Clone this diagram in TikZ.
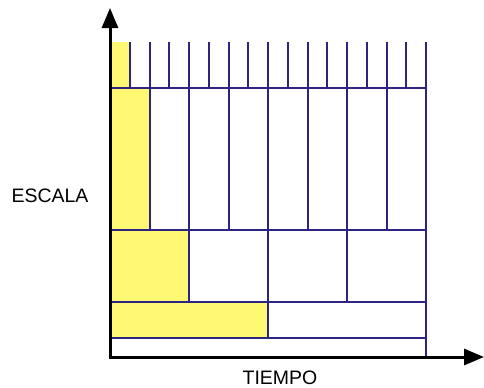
\documentclass[tikz,border=0pt]{standalone}
\usepackage{fontspec}
\setmainfont{Liberation Sans}
\usetikzlibrary{arrows.meta}

\definecolor{gridblue}{RGB}{44,36,128}
\definecolor{cellyellow}{RGB}{255,248,115}

\tikzset{
  cellline/.style={color=gridblue, line width=1.5pt},
  cellfill/.style={fill=cellyellow, draw=none},
  axisline/.style={draw=black, line width=2.25pt, -{Triangle[width=12pt,length=15pt]}},
  axislabel/.style={inner sep=0.75pt, font=\fontsize{14.6}{17}\selectfont},
}

\begin{document}
\begin{tikzpicture}[x=0.75pt,y=0.75pt,yscale=-1,xscale=1]
\useasboundingbox (0,0) rectangle (484,387);

%Shape: Yellow cells
\path [cellfill] (110,42) rectangle (129.75,88) ;
\path [cellfill] (110,88) rectangle (149.5,230) ;
\path [cellfill] (110,230) rectangle (189,302) ;
\path [cellfill] (110,302) rectangle (268,338) ;

%Shape: Grid rows
\draw [cellline] (110,88) -- (426,88)(110,230) -- (426,230)(110,302) -- (426,302)(110,338) -- (426,338) ;
%Row of 16
\draw [cellline] (129.75,42) -- (129.75,88)(149.5,42) -- (149.5,88)(169.25,42) -- (169.25,88)(189,42) -- (189,88)(208.75,42) -- (208.75,88)(228.5,42) -- (228.5,88)(248.25,42) -- (248.25,88)(268,42) -- (268,88)(287.75,42) -- (287.75,88)(307.5,42) -- (307.5,88)(327.25,42) -- (327.25,88)(347,42) -- (347,88)(366.75,42) -- (366.75,88)(386.5,42) -- (386.5,88)(406.25,42) -- (406.25,88) ;
%Row of 8
\draw [cellline] (149.5,88) -- (149.5,230)(189,88) -- (189,230)(228.5,88) -- (228.5,230)(268,88) -- (268,230)(307.5,88) -- (307.5,230)(347,88) -- (347,230)(386.5,88) -- (386.5,230) ;
%Row of 4
\draw [cellline] (189,230) -- (189,302)(268,230) -- (268,302)(347,230) -- (347,302) ;
%Row of 2
\draw [cellline] (268,302) -- (268,338) ;
%Right edge
\draw [cellline] (426,42) -- (426,357) ;

%Shape: Axis 2D
\coordinate (origin) at (110,357) ;
\coordinate (ytip) at (110,8) ;
\coordinate (xtip) at (484,357) ;
\draw [axisline] (origin) -- (ytip) ;
\draw [axisline] ([xshift=-1.1pt]origin) -- (xtip) ;

% Text Node
\node (escala) [axislabel] at (50,195.5) {ESCALA};
% Text Node
\node (tiempo) [axislabel] at (280,377.5) {TIEMPO};

\end{tikzpicture}
\end{document}
